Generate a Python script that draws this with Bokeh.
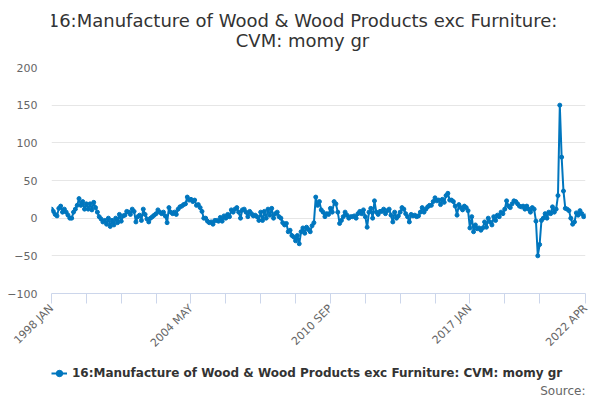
import math
from bokeh.plotting import figure
from bokeh.layouts import column
from bokeh.models import Range1d, FixedTicker, Legend, LegendItem, Label
from bokeh.embed import file_html
from bokeh.resources import INLINE

MONTHS = ["JAN", "FEB", "MAR", "APR", "MAY", "JUN",
          "JUL", "AUG", "SEP", "OCT", "NOV", "DEC"]
START_YEAR = 1998

Y1998 = [12, 9, 5, 3, 13, 16, 8, 12, 8, 4, 0, 0]
Y1999 = [8, 12, 17, 26, 17, 22, 12, 19, 12, 19, 11, 21]
Y2000 = [14, 8, 2, -1, -5, -3, -8, 0, -11, -3, -9, 0]
Y2001 = [-6, 5, -4, 3, 4, 9, 8, 5, 12, 9, -5, 2]
Y2002 = [4, -3, 12, 5, -1, -5, 0, 2, 4, 6, 11, 8]
Y2003 = [6, 8, 3, -6, 14, 8, 6, 8, 5, 12, 15, 16]
Y2004 = [18, 19, 28, 24, 25, 22, 24, 17, 18, 14, 9, 0]
Y2005 = [0, -4, -6, -5, -8, -3, -3, -4, 1, -4, 3, 0]
Y2006 = [5, 2, 11, 8, 12, 14, 8, 0, 11, 12, 8, 2]
Y2007 = [9, 6, 3, 4, 2, -3, 8, -3, 9, 0, 12, 4]
Y2008 = [13, 0, 6, 8, 2, 0, -6, -9, -7, -18, -16, -23]
Y2009 = [-25, -30, -23, -34, -18, -13, -20, -12, -15, -18, -10, -6]
Y2010 = [28, 17, 22, 11, 8, 2, 6, 5, 13, 8, 22, 19]
Y2011 = [8, -7, -3, 2, 8, 4, 0, 2, 2, 3, 0, 6]
Y2012 = [9, 6, 11, 2, -12, 8, 13, 0, 23, 8, 5, 9]
Y2013 = [9, 12, 6, 10, 12, 4, -5, 8, 0, 3, 8, 14]
Y2014 = [12, 6, 2, -5, 5, 3, 4, 2, 3, 8, 14, 8]
Y2015 = [12, 15, 17, 17, 22, 27, 23, 24, 18, 25, 21, 30]
Y2016 = [33, 24, 24, 22, 16, 4, 18, 14, 11, 16, 14, 10]
Y2017 = [-13, 2, -18, -9, -14, -13, -16, -13, -5, -12, 0, -5]
Y2018 = [-9, 2, -3, 4, 2, 8, 6, 12, 23, 16, 14, 19]
Y2019 = [23, 22, 19, 16, 15, 16, 12, 16, 12, 8, 14, 12]
Y2020 = [-4, -50, -35, -3, 0, 6, 0, 8, 6, 15, 8, 12]
Y2021 = [30, 150, 81, 36, 13, 12, 10, 0, -8, -5, 7, 4]
Y2022 = [10, 6, 2, 3]

VALUES = (Y1998 + Y1999 + Y2000 + Y2001 + Y2002 + Y2003 + Y2004 + Y2005 +
          Y2006 + Y2007 + Y2008 + Y2009 + Y2010 + Y2011 + Y2012 + Y2013 +
          Y2014 + Y2015 + Y2016 + Y2017 + Y2018 + Y2019 + Y2020 + Y2021 + Y2022)

CATEGORIES = [f"{START_YEAR + i // 12} {MONTHS[i % 12]}" for i in range(len(VALUES))]
LABELLED = ["1998 JAN", "2004 MAY", "2010 SEP", "2017 JAN", "2022 APR"]
TICK_STEP = 19
Y_TICKS = [-100, -50, 0, 50, 100, 150, 200]

TITLE1 = "16:Manufacture of Wood & Wood Products exc Furniture:"
TITLE2 = "CVM: momy gr"
SERIES = "16:Manufacture of Wood & Wood Products exc Furniture: CVM: momy gr"
SOURCE = "Source:"

FONT = "DejaVu Sans"
BLUE = "#0076be"

n = len(VALUES)
xs = list(range(n))

W = 600
H_TOP = 56
H_MAIN = 306
H_LEG = 38
FRAME_L = 51
FRAME_R = 585


def strip(height):
    # frames of the column's plots are aligned to the main chart's frame,
    # so the strip's x range is expressed in page pixels of that frame
    f = figure(width=W, height=height, output_backend="svg", toolbar_location=None,
               x_range=Range1d(FRAME_L, FRAME_R), y_range=Range1d(0, height),
               x_axis_type=None, y_axis_type=None, title=None,
               min_border_left=FRAME_L, min_border_right=W - FRAME_R,
               min_border_top=0, min_border_bottom=0)
    f.outline_line_color = None
    f.xgrid.grid_line_color = None
    f.ygrid.grid_line_color = None
    return f


# title strip
t = strip(H_TOP)
for txt, yc in ((TITLE1, H_TOP - 20), (TITLE2, H_TOP - 40)):
    t.add_layout(Label(x=302, y=yc, text=txt, text_align="center",
                       text_baseline="middle", text_font=FONT,
                       text_font_size="18px", text_color="#333333"))

# main chart
p = figure(width=W, height=H_MAIN, output_backend="svg", toolbar_location=None,
           x_range=Range1d(0, n - 1), y_range=Range1d(-100, 200), title=None,
           min_border_left=FRAME_L, min_border_right=W - FRAME_R, min_border_top=11,
           min_border_bottom=69)
p.outline_line_color = None
p.background_fill_color = "white"
p.border_fill_color = "white"

p.line(xs, VALUES, line_color=BLUE, line_width=2)
p.scatter(xs, VALUES, size=4, fill_color=BLUE, line_color=BLUE)

ticks = list(range(0, n - TICK_STEP, TICK_STEP)) + [n - 1]
overrides = {}
for tk in ticks:
    lab = CATEGORIES[tk]
    overrides[tk] = lab if lab in LABELLED else ""
xa = p.xaxis[0]
xa.ticker = FixedTicker(ticks=ticks)
xa.major_label_overrides = overrides
xa.axis_line_color = "#ccd6eb"
xa.major_tick_line_color = "#ccd6eb"
xa.major_tick_out = 10
xa.major_tick_in = 0
xa.minor_tick_line_color = None
xa.major_label_orientation = math.pi / 4
xa.major_label_text_color = "#666666"
xa.major_label_text_font = FONT
xa.major_label_text_font_size = "11px"
xa.major_label_standoff = 3

ya = p.yaxis[0]
ya.ticker = FixedTicker(ticks=Y_TICKS)
ya.axis_line_color = None
ya.major_tick_line_color = None
ya.minor_tick_line_color = None
ya.major_tick_out = 0
ya.major_tick_in = 0
ya.major_label_text_color = "#666666"
ya.major_label_text_font = FONT
ya.major_label_text_font_size = "11px"
ya.major_label_standoff = 14

p.xgrid.grid_line_color = None
p.ygrid.grid_line_color = "#e6e6e6"

# legend + source strip
q = strip(H_LEG)
lq = q.line(xs[:2], VALUES[:2], line_color=BLUE, line_width=2)
sq = q.scatter(xs[:1], VALUES[:1], size=4, fill_color=BLUE, line_color=BLUE)
lq.visible = False
sq.visible = False
legend = Legend(items=[LegendItem(label=SERIES, renderers=[lq, sq])],
                orientation="horizontal", location=(0, H_LEG - 19),
                label_text_font=FONT, label_text_font_size="12px",
                label_text_font_style="bold", label_text_color="#333333",
                border_line_color=None, background_fill_alpha=0,
                inactive_fill_alpha=0,
                glyph_width=16, glyph_height=16, label_height=16,
                padding=0, margin=0, label_standoff=5)
q.add_layout(legend, "center")
q.add_layout(Label(x=FRAME_R, y=H_LEG - 28, text=SOURCE, text_align="right",
                   text_baseline="middle", text_font=FONT,
                   text_font_size="12px", text_color="#666666"))

layout = column(t, p, q, spacing=0)
open("out.html", "w").write(file_html(layout, INLINE))
